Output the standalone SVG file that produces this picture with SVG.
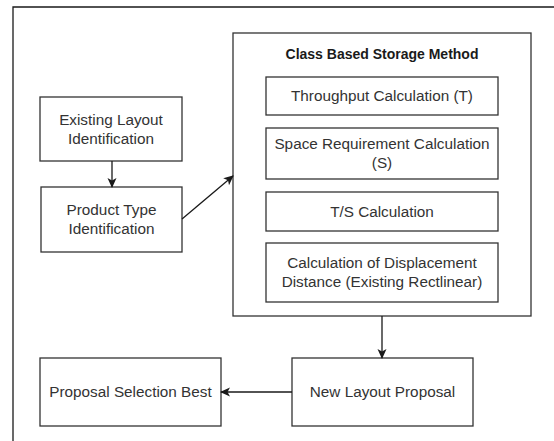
<svg xmlns="http://www.w3.org/2000/svg" width="554" height="441" viewBox="0 0 554 441">
  <style>
    .box { fill: #ffffff; stroke: #333333; stroke-width: 1.3; }
    .t { font-family: "Liberation Sans", Arial, sans-serif; font-size: 15.3px; fill: #333333; text-anchor: middle; }
    .tb { font-family: "Liberation Sans", Arial, sans-serif; font-size: 14px; font-weight: bold; fill: #1a1a1a; text-anchor: middle; }
    .edge { fill: none; stroke: #1a1a1a; stroke-width: 1.3; }
  </style>
  <defs>
    <marker id="arrow" viewBox="0 0 10 10" refX="9" refY="5" markerWidth="10" markerHeight="10" markerUnits="userSpaceOnUse" orient="auto">
      <path d="M0,0.5 L10,5 L0,9.5 L2.5,5 Z" fill="#1a1a1a"/>
    </marker>
  </defs>
  <rect x="0" y="0" width="554" height="441" fill="#ffffff"/>

  <!-- page frame -->
  <path d="M13,441 V7 H554" fill="none" stroke="#1a1a1a" stroke-width="1.3"/>

  <g id="existing-layout">
    <rect class="box" x="40" y="97" width="142" height="64"/>
    <text class="t" x="111" y="125">Existing Layout</text>
    <text class="t" x="111" y="144">Identification</text>
  </g>

  <g id="product-type">
    <rect class="box" x="41" y="187" width="141" height="65"/>
    <text class="t" x="111.5" y="215">Product Type</text>
    <text class="t" x="111.5" y="234">Identification</text>
  </g>

  <g id="class-based-storage">
    <rect class="box" x="233" y="33" width="298" height="283"/>
    <text class="tb" x="382" y="59">Class Based Storage Method</text>
  </g>

  <g id="throughput">
    <rect class="box" x="266" y="77" width="232" height="38"/>
    <text class="t" x="382" y="101">Throughput Calculation (T)</text>
  </g>

  <g id="space-requirement">
    <rect class="box" x="266" y="128" width="232" height="51"/>
    <text class="t" x="382" y="149">Space Requirement Calculation</text>
    <text class="t" x="382" y="168">(S)</text>
  </g>

  <g id="ts-calculation">
    <rect class="box" x="266" y="192" width="232" height="39"/>
    <text class="t" x="382" y="217">T/S Calculation</text>
  </g>

  <g id="displacement">
    <rect class="box" x="266" y="243" width="232" height="59"/>
    <text class="t" x="382" y="268">Calculation of Displacement</text>
    <text class="t" x="382" y="287">Distance (Existing Rectlinear)</text>
  </g>

  <g id="new-layout">
    <rect class="box" x="292" y="358" width="181" height="68"/>
    <text class="t" x="382.5" y="397">New Layout Proposal</text>
  </g>

  <g id="proposal-selection">
    <rect class="box" x="40" y="358" width="181" height="68"/>
    <text class="t" x="130.5" y="397">Proposal Selection Best</text>
  </g>

  <g id="connectors">
    <path class="edge" d="M112,161 V187" marker-end="url(#arrow)"/>
    <path class="edge" d="M182,219 L233,176" marker-end="url(#arrow)"/>
    <path class="edge" d="M382,316 V358" marker-end="url(#arrow)"/>
    <path class="edge" d="M292,392 H221" marker-end="url(#arrow)"/>
  </g>
</svg>
